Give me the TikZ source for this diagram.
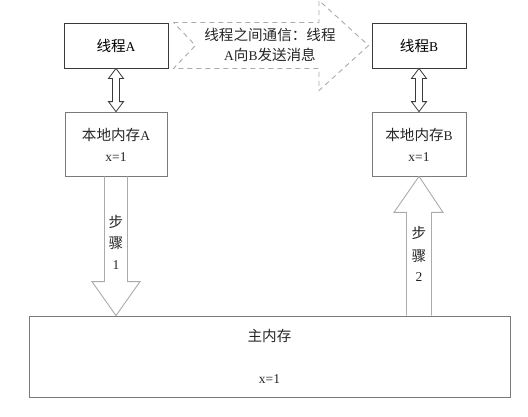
\documentclass[tikz,border=0pt]{standalone}
\usepackage{fontspec}
\setmainfont{Liberation Serif}
\newfontfamily\cjk[Scale=1.08]{Noto Sans CJK SC}
\usetikzlibrary{calc}
\definecolor{darkline}{HTML}{3A3A3A}
\definecolor{midline}{HTML}{7A7A7A}
\definecolor{lightline}{HTML}{ABABAB}
\begin{document}
\begin{tikzpicture}[x=1pt,y=-1pt,
  font=\fontsize{13.5}{16}\selectfont,
  threadbox/.style={draw=darkline,line width=0.9pt,inner sep=0pt,anchor=center},
  membox/.style={draw=midline,line width=0.8pt,inner sep=0pt,anchor=center},
  bigarrow/.style={draw=lightline,line width=0.9pt,line join=miter},
  dblarrow/.style={draw=darkline,line width=0.8pt,fill=white,line join=miter},
  lbl/.style={inner sep=0pt,anchor=center,text=black!85}]
\useasboundingbox (0,0) rectangle (528,416);
\fill[white] (0,0) rectangle (528,416);

% boxes
\node[threadbox,minimum width=104pt,minimum height=45pt] (ta) at (116,45.5) {{\cjk 线程}A};
\node[threadbox,minimum width=94pt,minimum height=45pt] (tb) at (419,45.5) {{\cjk 线程}B};
\node[membox,minimum width=102pt,minimum height=64pt] (ma) at (116,144) {};
\node[membox,minimum width=94pt,minimum height=64pt] (mb) at (419,144) {};
\node[membox,minimum width=481pt,minimum height=81pt] (mm) at (269.5,356.5) {};

\node[lbl] (maT) at (116,135) {{\cjk 本地内存}A};
\node[lbl] (maX) at (116,157) {x=1};
\node[lbl] (mbT) at (419,135) {{\cjk 本地内存}B};
\node[lbl] (mbX) at (419,157) {x=1};
\node[lbl] (mmT) at (269.5,336) {\cjk 主内存};
\node[lbl] (mmX) at (269.5,379) {x=1};

% double arrows thread <-> local memory (let-coordinates are absolute: y grows upward)
\foreach \t/\m in {ta/ma,tb/mb}{
  \draw[dblarrow]
    let \p1=(\t.south), \p2=(\m.north) in
    (\x1,\y1) -- (\x1+7.5pt,\y1-10pt) -- (\x1+3.5pt,\y1-10pt) -- (\x1+3.5pt,\y2+10pt)
    -- (\x1+7.5pt,\y2+10pt) -- (\x1,\y2) -- (\x1-7.5pt,\y2+10pt) -- (\x1-3.5pt,\y2+10pt)
    -- (\x1-3.5pt,\y1-10pt) -- (\x1-7.5pt,\y1-10pt) -- cycle;
}

% dashed communication arrow
\coordinate (cL) at ($(ta.east)+(5,0)$);
\coordinate (cR) at ($(tb.west)+(-3,0)$);
\draw[draw=lightline,line width=0.9pt,dash pattern=on 5pt off 4pt,line join=miter]
  let \p1=(cL), \p2=(cR) in
  (\x1,\y1+23pt) -- (319pt,\y1+23pt) -- (319pt,\y1+45pt) -- (\x2,\y2) -- (319pt,\y1-45pt)
  -- (319pt,\y1-23pt) -- (\x1,\y1-23pt) -- (\x1+22pt,\y1) -- cycle;
\node[lbl,align=center,font=\fontsize{13.5}{20}\selectfont] (msg) at (270,45)
  {{\cjk 线程之间通信：线程}\\A{\cjk 向}B{\cjk 发送消息}};

% step 1 arrow: local memory A -> main memory
\draw[bigarrow]
  let \p1=(ma.south), \p2=(mm.north) in
  (\x1-11.5pt,\y1) -- (\x1-11.5pt,\y2+34pt) -- (\x1-24pt,\y2+34pt) -- (\x1,\y2)
  -- (\x1+24pt,\y2+34pt) -- (\x1+11.5pt,\y2+34pt) -- (\x1+11.5pt,\y1);
\node[lbl] (s1a) at (116,222) {\cjk 步};
\node[lbl] (s1b) at (116,243) {\cjk 骤};
\node[lbl] (s1c) at (116,265) {1};

% step 2 arrow: main memory -> local memory B
\draw[bigarrow]
  let \p1=(mb.south), \p2=(mm.north) in
  (\x1-12.5pt,\y2) -- (\x1-12.5pt,\y1-36pt) -- (\x1-25pt,\y1-36pt) -- (\x1,\y1)
  -- (\x1+24pt,\y1-36pt) -- (\x1+12.5pt,\y1-36pt) -- (\x1+12.5pt,\y2);
\node[lbl] (s2a) at (419,233) {\cjk 步};
\node[lbl] (s2b) at (419,256) {\cjk 骤};
\node[lbl] (s2c) at (419,277) {2};
\end{tikzpicture}
\end{document}
